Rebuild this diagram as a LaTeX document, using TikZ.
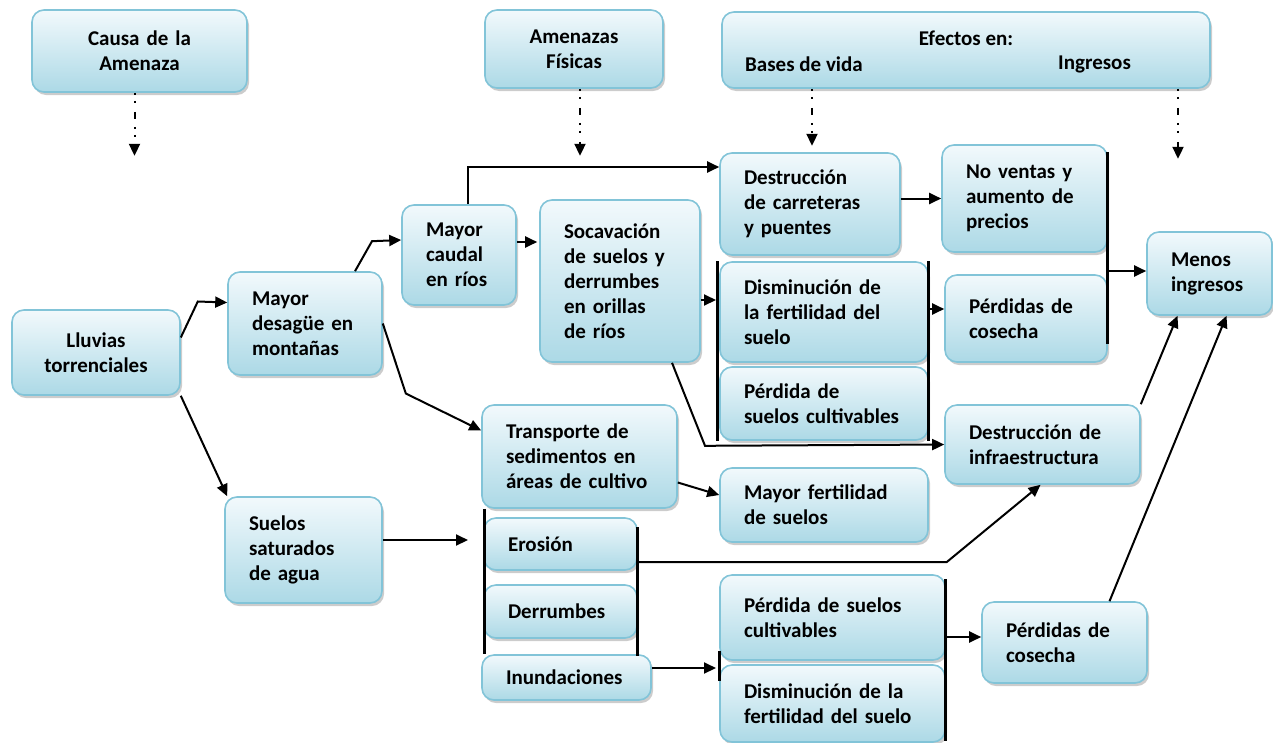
\documentclass[tikz,border=0pt]{standalone}
\usepackage{fontspec}
\setmainfont{Carlito}
\usetikzlibrary{arrows.meta,shadows}

\definecolor{boxtop}{RGB}{242,249,252}
\definecolor{boxbot}{RGB}{172,217,230}
\definecolor{boxline}{RGB}{130,196,216}

\tikzset{
  box/.style={rounded corners=12pt, draw=boxline, line width=1.6pt,
    top color=boxtop, bottom color=boxbot,
    drop shadow={shadow xshift=2pt, shadow yshift=-3pt, opacity=0.4, fill=gray},
    inner xsep=24pt, inner ysep=3pt, align=left},
  arr/.style={line width=2pt, -{Triangle[length=12pt,width=11pt]}},
  dotarr/.style={line width=2pt, dash pattern=on 2pt off 6pt on 2pt off 9pt on 7pt off 8pt,
    -{Triangle[length=12pt,width=11pt]}},
  brack/.style={line width=2.8pt},
}

\begin{document}
\begin{tikzpicture}[x=1pt, y=-1pt, font=\fontsize{21}{25}\selectfont\bfseries]
\useasboundingbox (0,0) rectangle (1273,742);
%
% headings
\node[box, align=center, text width=167pt, minimum height=82pt] (causa) at (139.5,51) {Causa de la\\ Amenaza};
\node[box, align=center, text width=130pt, minimum height=78pt] (amen) at (574,49) {Amenazas\\ Físicas};
\node[box, minimum width=488pt, minimum height=76pt] (efec) at (966,50) {};
\node[inner sep=0pt] (efecT) at (966,38) {Efectos en:};
\node[inner sep=0pt, anchor=west] (bases) at (745,64) {Bases de vida};
\node[inner sep=0pt, anchor=west] (ingr) at (1058,64) {Ingresos};
%
% causes
\node[box, align=center, text width=120pt, minimum height=85pt] (lluvias) at (96,352.5) {Lluvias\\ torrenciales};
\node[box, text width=106pt, minimum height=103pt] (desague) at (305,323.5) {Mayor\\ desagüe en\\ montañas};
\node[box, text width=109pt, minimum height=106pt] (suelossat) at (303.5,550) {Suelos\\ saturados\\ de agua};
\node[box, text width=66pt, minimum height=100pt] (caudal) at (459,255) {Mayor\\ caudal\\ en ríos};
%
% physical threats
\node[box, text width=112pt, minimum height=162pt] (socav) at (620,281) {Socavación\\ de suelos y\\ derrumbes\\ en orillas\\ de ríos};
\node[box, text width=147pt, minimum height=103pt] (transp) at (579.5,456.5) {Transporte de\\ sedimentos en\\ áreas de cultivo};
\node[box, text width=105pt, minimum height=52pt] (erosion) at (560.5,544) {Erosión};
\node[box, text width=105pt, minimum height=53pt] (derrumbes) at (560.5,611.5) {Derrumbes};
\node[box, text width=121pt, minimum height=45pt] (inund) at (566.5,677.5) {Inundaciones};
%
% effects on livelihoods
\node[box, text width=132pt, minimum height=102pt] (carret) at (810,204) {Destrucción\\ de carreteras\\ y puentes};
\node[box, text width=160pt, minimum height=100pt] (dismin1) at (824,312) {Disminución de\\ la fertilidad del\\ suelo};
\node[box, text width=160pt, minimum height=73pt] (perdsuel1) at (824,403.5) {Pérdida de\\ suelos cultivables};
\node[box, text width=160pt, minimum height=74pt] (fertil) at (824,505) {Mayor fertilidad\\ de suelos};
\node[box, text width=177pt, minimum height=85pt] (perdsuel2) at (832.5,617.5) {Pérdida de suelos\\ cultivables};
\node[box, text width=177pt, minimum height=77pt] (dismin2) at (832.5,703.5) {Disminución de la\\ fertilidad del suelo};
%
% effects on income
\node[box, text width=117pt, minimum height=107pt] (noventas) at (1024.5,198.5) {No ventas y\\ aumento de\\ precios};
\node[box, text width=114pt, minimum height=87pt] (perdcos1) at (1026,318.5) {Pérdidas de\\ cosecha};
\node[box, text width=147pt, minimum height=79pt] (infra) at (1042.5,444.5) {Destrucción de\\ infraestructura};
\node[box, text width=117pt, minimum height=81pt] (perdcos2) at (1064.5,642.5) {Pérdidas de\\ cosecha};
\node[box, text width=77pt, minimum height=83pt] (menos) at (1209.5,273.5) {Menos\\ ingresos};
%
% brackets
\draw[brack] ([xshift=-2pt]dismin1.north west) -- ([xshift=-2pt]perdsuel1.south west);
\draw[brack] (dismin1.north east) -- (perdsuel1.south east);
\draw[brack] ([yshift=-8pt]noventas.north east) -- ([yshift=19pt]perdcos1.south east);
\draw[brack] ([xshift=3pt]transp.south west) -- ([xshift=3pt]inund.north west);
\draw[brack] ([yshift=-10pt]erosion.north east) -- ([yshift=-17pt]derrumbes.south east);
\draw[brack] ([yshift=10pt]perdsuel2.south west) -- ([yshift=-17pt]dismin2.north west);
\draw[brack] ([yshift=-5pt]perdsuel2.north east) -- ([yshift=2pt]dismin2.south east);
%
\coordinate (in1) at (716,300);
\coordinate (in3) at (468,540);
\coordinate (in4) at (716,668);
\coordinate (out1) at (928,309);
\coordinate (out2) at (1108,271);
\coordinate (out4) at (946,637);
%
% dotted guide arrows
\draw[dotarr] ([xshift=-5pt]causa.south) -- ++(0,63);
\draw[dotarr] ([xshift=6pt]amen.south) -- ++(0,67);
\draw[dotarr] ([xshift=-154pt]efec.south) -- ++(0,57);
\draw[dotarr] ([xshift=212pt]efec.south) -- ++(0,70);
%
% connectors
\draw[arr] ([yshift=15pt]lluvias.east) -- ++(17,-36) -- ([yshift=21pt]desague.west);
\draw[arr] (lluvias.south east) -- ([xshift=3pt]suelossat.north west);
\draw[arr] ([xshift=50pt]desague.north) -- ++(17,-30) -- ([yshift=15pt]caudal.west);
\draw[arr] ([yshift=13pt]caudal.east) -- ([xshift=-2pt,yshift=13pt]caudal.east -| socav.west);
\draw[arr] ([xshift=9pt]caudal.north) |- ([yshift=37pt]carret.west);
\draw[arr] (desague.east) -- ++(23,70) -- ([yshift=26pt]transp.west);
\draw[arr] ([yshift=-19pt]socav.east) -- (in1);
\draw[arr] ([xshift=52pt]socav.south) -- ++(33,83) -- (infra.west);
\draw[arr] (out1) -- (perdcos1.west |- out1);
\draw[arr] (noventas.west -| carret.east) -- (noventas.west);
\draw[arr] (out2) -- (menos.west |- out2);
\draw[arr] (infra.north east) -- ([xshift=-32pt]menos.south);
\draw[arr] ([xshift=45pt]perdcos2.north) -- ([xshift=17pt]menos.south);
\draw[arr] ([yshift=-26pt]transp.east) -- ([yshift=10pt]fertil.west);
\draw[arr] ([yshift=10pt]suelossat.east) -- (in3);
\draw[arr] ([yshift=-18pt]erosion.east) -- ++(309,0) -- ([xshift=-2pt]infra.south);
\draw[arr] ([yshift=9.5pt]inund.east) -- (in4);
\draw[arr] (out4) -- (perdcos2.west |- out4);
%
\end{tikzpicture}
\end{document}
